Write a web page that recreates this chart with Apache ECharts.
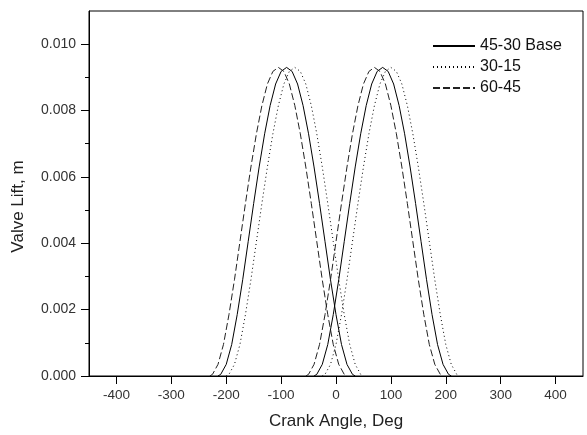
<!DOCTYPE html>
<html>
<head>
<meta charset="utf-8">
<script src="https://cdn.jsdelivr.net/npm/echarts@6/dist/echarts.min.js"></script>
<style>
html,body{margin:0;padding:0;background:#fff;}
#c{width:587px;height:435px;}
</style>
</head>
<body>
<div id="c"></div>
<script>
// Lift profile (m), shared by every lobe
var liftProfile = [0, 0.00005, 0.00035, 0.00095, 0.00185, 0.0029, 0.00405, 0.0052, 0.0063, 0.0073, 0.00815, 0.0088, 0.00918, 0.0093, 0.00918, 0.0088, 0.00815, 0.0073, 0.0063, 0.0052, 0.00405, 0.0029, 0.00185, 0.00095, 0.00035, 0.00005, 0];

// Crank angles (deg) for each lobe
var baseExhAngle = [-215,-210,-200,-190,-180,-170,-160,-150,-140,-130,-120,-110,-100,-90,-80,-70,-60,-50,-40,-30,-20,-10,0,10,20,30,35];
var baseIntAngle = [-40,-35,-25,-15,-5,5,15,25,35,45,55,65,75,85,95,105,115,125,135,145,155,165,175,185,195,205,210];
var dotExhAngle = [-200,-195,-185,-175,-165,-155,-145,-135,-125,-115,-105,-95,-85,-75,-65,-55,-45,-35,-25,-15,-5,5,15,25,35,45,50];
var dotIntAngle = [-25,-20,-10,0,10,20,30,40,50,60,70,80,90,100,110,120,130,140,150,160,170,180,190,200,210,220,225];
var dashExhAngle = [-230,-225,-215,-205,-195,-185,-175,-165,-155,-145,-135,-125,-115,-105,-95,-85,-75,-65,-55,-45,-35,-25,-15,-5,5,15,20];
var dashIntAngle = [-55,-50,-40,-30,-20,-10,0,10,20,30,40,50,60,70,80,90,100,110,120,130,140,150,160,170,180,190,195];

var seriesNames = ['45-30 Base', '30-15', '60-45'];
var xTicks = [-400,-300,-200,-100,0,100,200,300,400];
var yTicks = [0,0.002,0.004,0.006,0.008,0.010];
var yMinorTicks = [0.001,0.003,0.005,0.007,0.009];

function lobes(a, b) {
  var d = [];
  a.forEach(function (x, i) { d.push([x, liftProfile[i]]); });
  d.push(['-', '-']);
  b.forEach(function (x, i) { d.push([x, liftProfile[i]]); });
  return d;
}

var FONT = 'Liberation Sans, Arial, sans-serif';
var chart = echarts.init(document.getElementById('c'), null, {renderer: 'canvas'});
chart.setOption({
  animation: false,
  backgroundColor: '#fff',
  grid: {left: 89, right: 4, top: 11, bottom: 58, show: true, borderColor: '#000', borderWidth: 1, backgroundColor: 'transparent'},
  legend: {
    orient: 'vertical', left: 432, top: 38, padding: 0, itemWidth: 42, itemHeight: 12, itemGap: 5,
    itemStyle: {opacity: 0},
    textStyle: {fontFamily: FONT, fontSize: 16, color: '#111'},
    data: seriesNames
  },
  xAxis: {
    type: 'value', min: -450, max: 450,
    name: 'Crank Angle, Deg', nameLocation: 'middle', nameGap: 37,
    nameTextStyle: {fontFamily: FONT, fontSize: 17, color: '#222'},
    axisLine: {show: true, onZero: false, lineStyle: {color: '#000', width: 1}},
    axisTick: {show: true, length: 8, inside: false, customValues: xTicks, lineStyle: {color: '#000'}},
    axisLabel: {customValues: xTicks, fontFamily: FONT, fontSize: 13.5, color: '#333', margin: 12},
    splitLine: {show: false}
  },
  yAxis: [{
    type: 'value', min: 0, max: 0.011,
    name: 'Valve Lift, m', nameLocation: 'middle', nameGap: 62,
    nameTextStyle: {fontFamily: FONT, fontSize: 17, color: '#222', padding: [0, 26, 0, 0]},
    axisLine: {show: true, onZero: false, lineStyle: {color: '#000', width: 1}},
    axisTick: {show: true, length: 8, customValues: yTicks, lineStyle: {color: '#000'}},
    axisLabel: {customValues: yTicks, fontFamily: FONT, fontSize: 14, color: '#333', margin: 13,
      formatter: function (v) { return v.toFixed(3); }},
    splitLine: {show: false}
  }, {
    type: 'value', min: 0, max: 0.011, position: 'left',
    axisLine: {show: false, onZero: false},
    axisTick: {show: true, length: 4, customValues: yMinorTicks, lineStyle: {color: '#000'}},
    axisLabel: {show: false},
    splitLine: {show: false}
  }],
  series: [{
    name: seriesNames[0], type: 'line', symbol: 'none', yAxisIndex: 0,
    lineStyle: {color: '#000', width: 1, type: 'solid'}, itemStyle: {color: '#000'},
    data: lobes(baseExhAngle, baseIntAngle)
  }, {
    name: seriesNames[1], type: 'line', symbol: 'none', yAxisIndex: 0,
    lineStyle: {color: '#000', width: 1, type: [1, 3]}, itemStyle: {color: '#000'},
    data: lobes(dotExhAngle, dotIntAngle)
  }, {
    name: seriesNames[2], type: 'line', symbol: 'none', yAxisIndex: 0,
    lineStyle: {color: '#222', width: 1, type: [7, 3]}, itemStyle: {color: '#222'},
    data: lobes(dashExhAngle, dashIntAngle)
  }]
});
</script>
</body>
</html>
